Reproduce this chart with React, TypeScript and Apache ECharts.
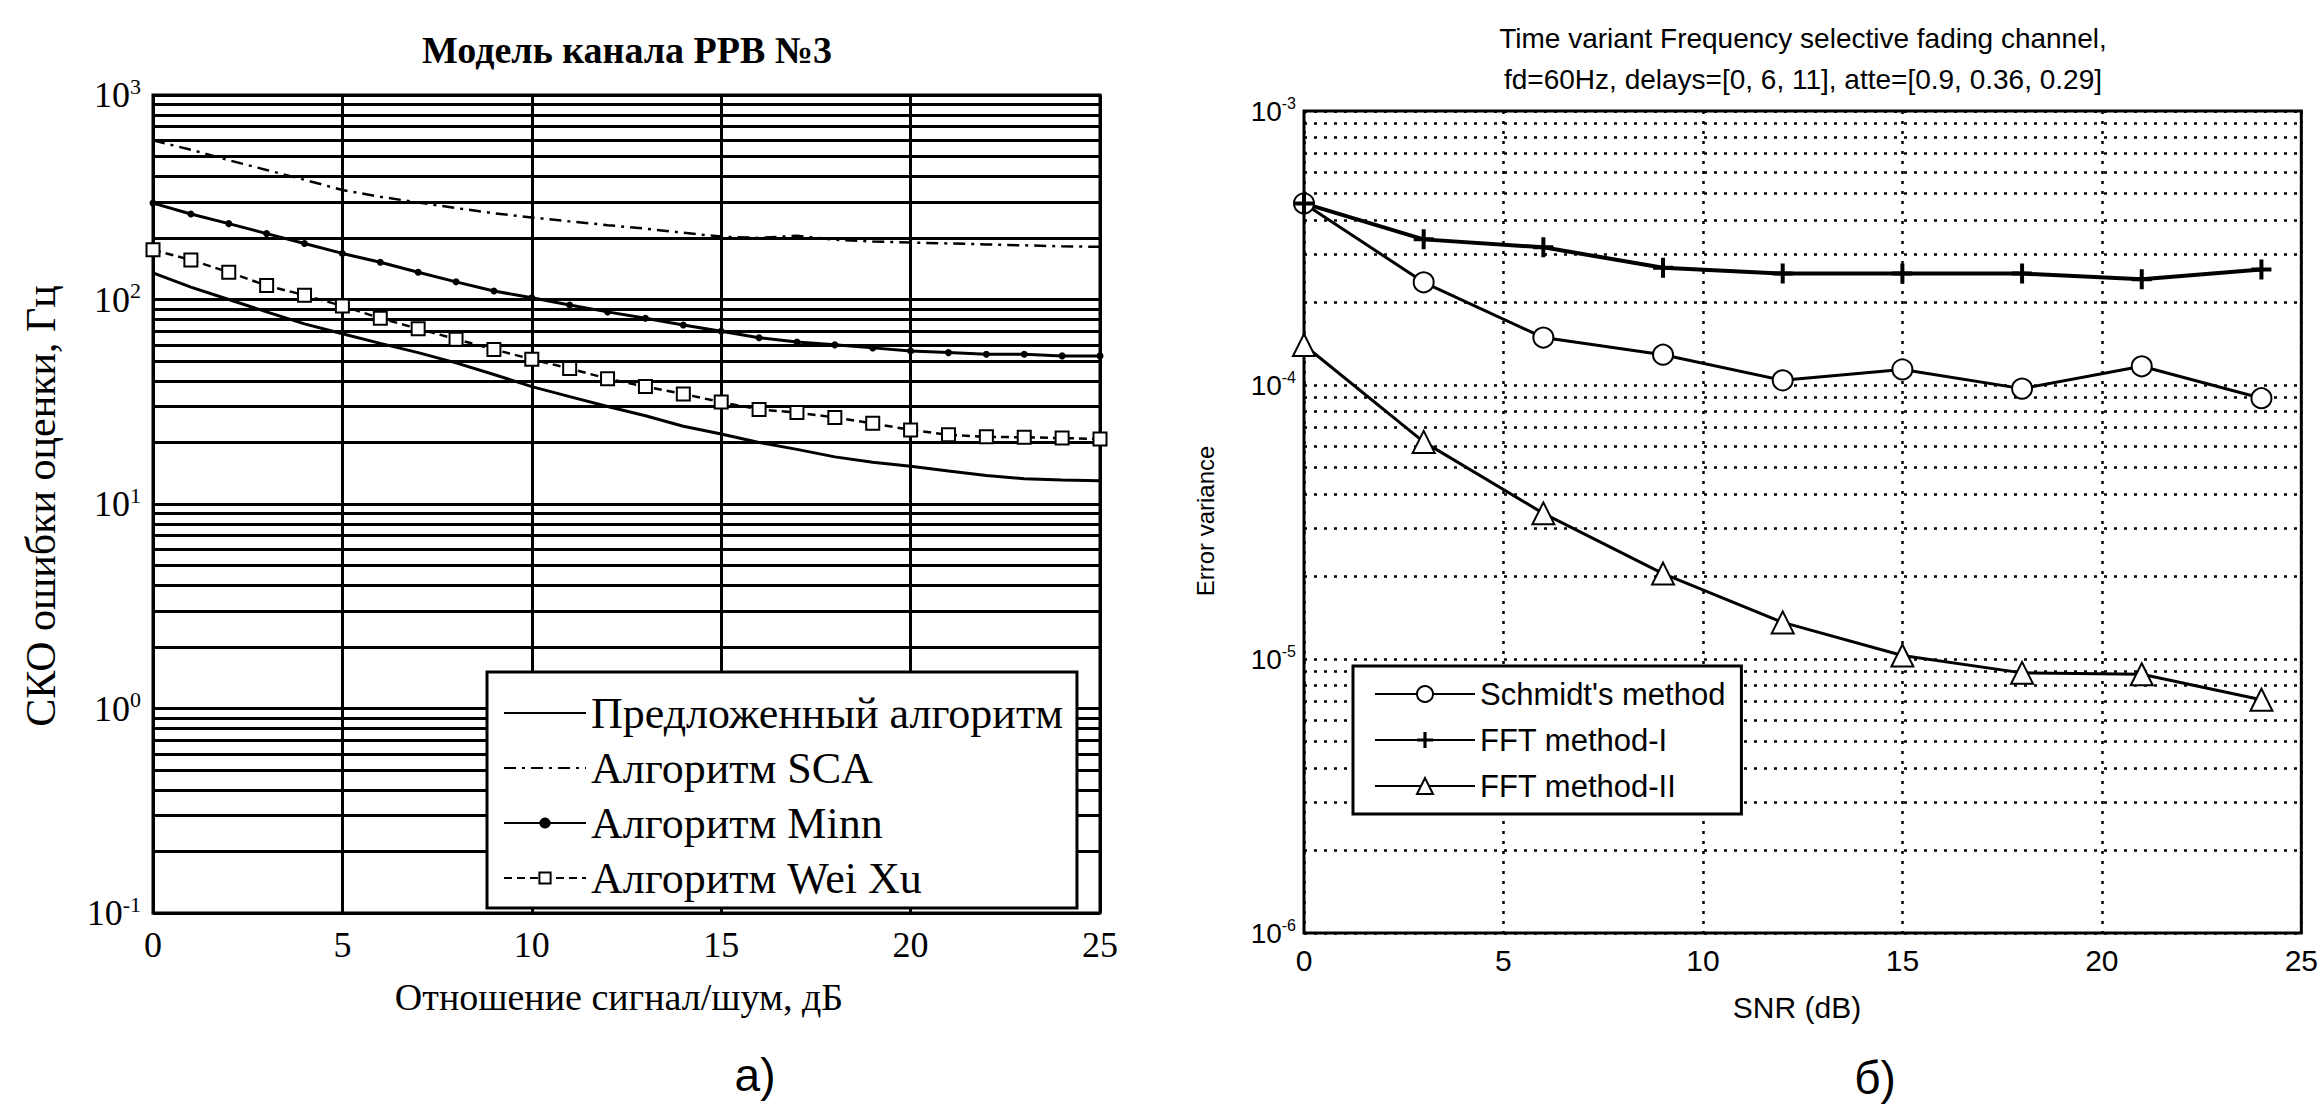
import React, { useEffect, useRef } from 'react';
import * as echarts from 'echarts';

// ---------- Chart (a) data ----------
const snrA = [0, 1, 2, 3, 4, 5, 6, 7, 8, 9, 10, 11, 12, 13, 14, 15, 16, 17, 18, 19, 20, 21, 22, 23, 24, 25];
const proposedA = [135, 115, 100, 87, 76, 68, 61, 55, 49, 43, 37.5, 33.5, 30, 27, 24, 22, 20, 18.5, 17, 16, 15.3, 14.5, 13.8, 13.3, 13.1, 13.0];
const scaA = [600, 540, 480, 430, 385, 343, 318, 298, 280, 264, 252, 241, 231, 222, 212, 203, 200, 205, 196, 192, 190, 188, 186, 184, 182, 181];
const minnA = [296, 262, 235, 210, 188, 168, 152, 136, 122, 110, 102, 94, 87, 81, 75, 70, 65, 62, 60, 58, 56, 55, 54, 54, 53, 53];
const weixuA = [175, 156, 136, 117, 105, 93, 81, 72, 64, 57, 51, 46, 41, 37.5, 34.5, 31.5, 29, 28, 26.5, 24.8, 23, 21.8, 21.3, 21.2, 21, 20.8];
const namesA = ['Предложенный алгоритм', 'Алгоритм SCA', 'Алгоритм Minn', 'Алгоритм Wei Xu'];
const decadesA = [-1, 0, 1, 2, 3];

// ---------- Chart (б) data ----------
const snrB = [0, 3, 6, 9, 12, 15, 18, 21, 24];
const schmidtB = [4.6e-4, 2.37e-4, 1.49e-4, 1.29e-4, 1.04e-4, 1.14e-4, 9.7e-5, 1.17e-4, 8.95e-5];
const fft1B = [4.6e-4, 3.4e-4, 3.18e-4, 2.68e-4, 2.55e-4, 2.55e-4, 2.55e-4, 2.43e-4, 2.64e-4];
const fft2B = [1.4e-4, 6.2e-5, 3.4e-5, 2.05e-5, 1.36e-5, 1.03e-5, 8.9e-6, 8.8e-6, 7.1e-6];
const namesB = ["Schmidt's method", 'FFT method-I', 'FFT method-II'];
const decadesB = [-6, -5, -4, -3];

const SERIF = '"Liberation Serif", "DejaVu Serif", serif';
const SANS = '"Liberation Sans", Arial, sans-serif';

function minorValues(decades: number[]) {
  const out: number[] = [];
  for (let i = 0; i < decades.length - 1; i++) {
    for (let k = 2; k <= 9; k++) out.push(Number((k * Math.pow(10, decades[i])).toPrecision(3)));
  }
  return out;
}

const pairs = (xs: number[], ys: number[]) => xs.map((x, i) => [x, ys[i]]);

const PLUS = 'path://M4 0h2v4h4v2h-4v4h-2v-4h-4v-2h4z';

export default function App() {
  const ref = useRef<HTMLDivElement>(null);
  useEffect(() => {
    if (!ref.current) return;
    const chart = echarts.init(ref.current, null, { renderer: 'svg' });
    const expFmt = (v: number) => `{b|10}{s|${Math.round(Math.log10(v))}}`;
    const minorMarkLine = (decades: number[], lineStyle: any) => ({
      silent: true, symbol: ['none', 'none'], label: { show: false }, precision: 12, z: 1,
      lineStyle, emphasis: { disabled: true },
      data: minorValues(decades).map((v) => ({ yAxis: v })),
    });
    const option: any = {
      animation: false,
      backgroundColor: '#fff',
      textStyle: { fontFamily: SERIF, color: '#000' },
      grid: [
        { left: 153, top: 95, width: 947, height: 818, show: true, borderColor: '#000', borderWidth: 3, backgroundColor: 'transparent' },
        { left: 1304, top: 111, width: 998, height: 822, show: true, borderColor: '#000', borderWidth: 3, backgroundColor: 'transparent' },
      ],
      xAxis: [
        {
          gridIndex: 0, type: 'value', min: 0, max: 25, interval: 5,
          axisLine: { show: false }, axisTick: { show: false },
          splitLine: { show: true, lineStyle: { color: '#000', width: 3, type: 'solid' } },
          axisLabel: { fontFamily: SERIF, fontSize: 36, color: '#000', margin: 14 },
        },
        {
          gridIndex: 1, type: 'value', min: 0, max: 25, interval: 5,
          axisLine: { show: false }, axisTick: { show: false },
          splitLine: { show: true, lineStyle: { color: '#000', width: 2.5, type: [3, 7] } },
          axisLabel: { fontFamily: SANS, fontSize: 30, color: '#000', margin: 12 },
        },
      ],
      yAxis: [
        {
          gridIndex: 0, type: 'log', logBase: 10, min: 0.1, max: 1000,
          axisLine: { show: false }, axisTick: { show: false },
          splitLine: { show: true, lineStyle: { color: '#000', width: 3, type: 'solid' } },
          axisLabel: {
            margin: 12, formatter: expFmt,
            rich: {
              b: { fontFamily: SERIF, fontSize: 36, color: '#000', lineHeight: 40 },
              s: { fontFamily: SERIF, fontSize: 22, color: '#000', verticalAlign: 'top', lineHeight: 22 },
            },
          },
        },
        {
          gridIndex: 1, type: 'log', logBase: 10, min: 1e-6, max: 1e-3,
          axisLine: { show: false }, axisTick: { show: false },
          splitLine: { show: true, lineStyle: { color: '#000', width: 2.5, type: [3, 7] } },
          axisLabel: {
            margin: 8, formatter: expFmt,
            rich: {
              b: { fontFamily: SANS, fontSize: 28, color: '#000', lineHeight: 32 },
              s: { fontFamily: SANS, fontSize: 16, color: '#000', verticalAlign: 'top', lineHeight: 16 },
            },
          },
        },
      ],
      legend: [
        {
          z: 20,
          data: [
            { name: namesA[0], itemStyle: { opacity: 0 } },
            { name: namesA[1], itemStyle: { opacity: 0 } },
            { name: namesA[2] },
            { name: namesA[3] },
          ],
          orient: 'vertical', left: 487, top: 672,
          padding: [18, 14, 7, 16], itemGap: 9, itemWidth: 82, itemHeight: 14,
          textStyle: { fontFamily: SERIF, fontSize: 44, color: '#000', lineHeight: 46 },
          borderColor: '#000', borderWidth: 3, backgroundColor: '#fff', selectedMode: false,
        },
        {
          z: 20,
          data: namesB, orient: 'vertical', left: 1353, top: 666,
          padding: [12, 16, 12, 21], itemGap: 14, itemWidth: 100, itemHeight: 20,
          textStyle: { fontFamily: SANS, fontSize: 31, color: '#000', lineHeight: 32 },
          borderColor: '#000', borderWidth: 3, backgroundColor: '#fff', selectedMode: false,
        },
      ],
      series: [
        {
          name: namesA[0], type: 'line', xAxisIndex: 0, yAxisIndex: 0, data: pairs(snrA, proposedA),
          symbol: 'none', lineStyle: { color: '#000', width: 3 }, itemStyle: { color: '#000' },
          markLine: minorMarkLine(decadesA, { color: '#000', width: 3, type: 'solid' }),
        },
        {
          name: namesA[1], type: 'line', xAxisIndex: 0, yAxisIndex: 0, data: pairs(snrA, scaA),
          symbol: 'none', lineStyle: { color: '#000', width: 2.5, type: [12, 6, 3, 6] }, itemStyle: { color: '#000' },
        },
        {
          name: namesA[2], type: 'line', xAxisIndex: 0, yAxisIndex: 0, data: pairs(snrA, minnA),
          symbol: 'circle', symbolSize: 7, lineStyle: { color: '#000', width: 3 }, itemStyle: { color: '#000' },
        },
        {
          name: namesA[3], type: 'line', xAxisIndex: 0, yAxisIndex: 0, data: pairs(snrA, weixuA),
          symbol: 'emptyRect', symbolSize: 13, lineStyle: { color: '#000', width: 2.5, type: [8, 5] },
          itemStyle: { color: '#000', borderColor: '#000', borderWidth: 2 },
        },
        {
          name: namesB[0], type: 'line', xAxisIndex: 1, yAxisIndex: 1, data: pairs(snrB, schmidtB),
          symbol: 'emptyCircle', symbolSize: 20, lineStyle: { color: '#000', width: 3 },
          itemStyle: { color: '#000', borderColor: '#000', borderWidth: 2.5 },
          markLine: minorMarkLine(decadesB, { color: '#000', width: 2.5, type: [3, 7] }),
        },
        {
          name: namesB[1], type: 'line', xAxisIndex: 1, yAxisIndex: 1, data: pairs(snrB, fft1B),
          symbol: PLUS, symbolSize: 20, lineStyle: { color: '#000', width: 4 }, itemStyle: { color: '#000' },
        },
        {
          name: namesB[2], type: 'line', xAxisIndex: 1, yAxisIndex: 1, data: pairs(snrB, fft2B),
          symbol: 'emptyTriangle', symbolSize: 22, lineStyle: { color: '#000', width: 3 },
          itemStyle: { color: '#000', borderColor: '#000', borderWidth: 2.5 },
        },
      ],
      graphic: [
        { type: 'text', x: 627, y: 50, style: { text: 'Модель канала РРВ №3', font: `bold 38px ${SERIF}`, fill: '#000', textAlign: 'center', textVerticalAlign: 'middle' } },
        { type: 'text', x: 619, y: 997, style: { text: 'Отношение сигнал/шум, дБ', font: `38px ${SERIF}`, fill: '#000', textAlign: 'center', textVerticalAlign: 'middle' } },
        { type: 'text', x: 41, y: 506, rotation: Math.PI / 2, style: { text: 'СКО ошибки оценки, Гц', font: `42px ${SERIF}`, fill: '#000', textAlign: 'center', textVerticalAlign: 'middle' } },
        { type: 'text', x: 755, y: 1075, style: { text: 'а)', font: `46px ${SANS}`, fill: '#000', textAlign: 'center', textVerticalAlign: 'middle' } },
        { type: 'text', x: 1803, y: 38, style: { text: 'Time variant Frequency selective fading channel,', font: `28px ${SANS}`, fill: '#000', textAlign: 'center', textVerticalAlign: 'middle' } },
        { type: 'text', x: 1803, y: 79, style: { text: 'fd=60Hz, delays=[0, 6, 11], atte=[0.9, 0.36, 0.29]', font: `28px ${SANS}`, fill: '#000', textAlign: 'center', textVerticalAlign: 'middle' } },
        { type: 'text', x: 1797, y: 1007, style: { text: 'SNR (dB)', font: `30px ${SANS}`, fill: '#000', textAlign: 'center', textVerticalAlign: 'middle' } },
        { type: 'text', x: 1205, y: 521, rotation: Math.PI / 2, style: { text: 'Error variance', font: `24px ${SANS}`, fill: '#000', textAlign: 'center', textVerticalAlign: 'middle' } },
        { type: 'text', x: 1875, y: 1078, style: { text: 'б)', font: `46px ${SANS}`, fill: '#000', textAlign: 'center', textVerticalAlign: 'middle' } },
      ],
    };
    chart.setOption(option);
    return () => chart.dispose();
  }, []);
  return (
    <div
      ref={ref}
      style={{ position: 'absolute', left: 0, top: 0, width: '2321px', height: '1113px', background: '#fff' }}
    />
  );
}
